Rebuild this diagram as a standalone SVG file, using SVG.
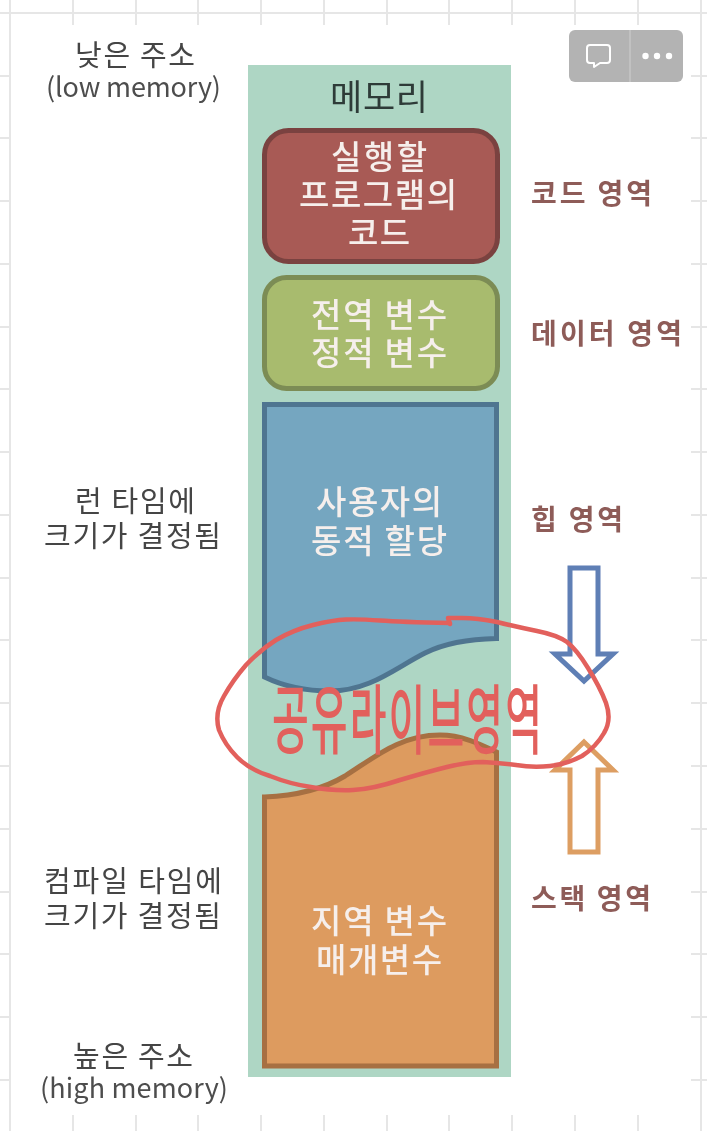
<svg xmlns="http://www.w3.org/2000/svg" width="707" height="1131" viewBox="0 0 707 1131">
<style>
text{font-family:"Noto Sans CJK KR","Noto Sans",sans-serif;text-anchor:start}
.grid{stroke:#e6e6e6;stroke-width:2;fill:none}
.side{font-size:29px;fill:#454545}
.latin{font-size:27px;fill:#4d4d4d}
.in{font-size:33px;font-weight:500;fill:#f6efec}
.area{font-size:28px;font-weight:700;fill:#8e5b59}
.box{stroke-width:5}
.arrow{fill:#fff;stroke-width:5;stroke-linejoin:miter;stroke-miterlimit:10}
</style>
<defs><filter id="soft" x="-5%" y="-5%" width="110%" height="110%"><feGaussianBlur stdDeviation="0.7"/></filter></defs>
<rect width="707" height="1131" fill="#fff"/>
<g id="grid" class="grid">
<path d="M0 13H707M10 0V1131M701 0V1131"/>
<path d="M73 0V25M136 0V25M198 0V25M261 0V25M324 0V25M387 0V25M449 0V25M512 0V25M575 0V25M638 0V25"/>
<path d="M10 1115V1131M73 1115V1131M136 1115V1131M198 1115V1131M261 1115V1131M324 1115V1131M387 1115V1131M449 1115V1131M512 1115V1131M575 1115V1131M638 1115V1131"/>
<path d="M0 76H9M0 138H9M0 201H9M0 264H9M0 327H9M0 389H9M0 452H9M0 515H9M0 578H9M0 640H9M0 703H9M0 766H9M0 829H9M0 892H9M0 954H9M0 1017H9M0 1080H9"/>
<path d="M691 76H707M691 138H707M691 201H707M691 264H707M691 327H707M691 389H707M691 452H707M691 515H707M691 578H707M691 640H707M691 703H707M691 766H707M691 829H707M691 892H707M691 954H707M691 1017H707M691 1080H707"/>
</g>
<g filter="url(#soft)">
<g id="memory">
<rect x="248" y="65" width="263" height="1012" fill="#aed6c4"/>
<text x="330" y="110" font-size="35" fill="#2d3b38" textLength="98">메모리</text>
</g>
<g id="code">
<rect class="box" x="264.5" y="130.5" width="233" height="131" rx="24" fill="#a85a54" stroke="#7a4340"/>
<text class="in" x="331" y="169" textLength="96">실행할</text>
<text class="in" x="299" y="207" textLength="158">프로그램의</text>
<text class="in" x="348" y="245" textLength="62">코드</text>
</g>
<g id="data">
<rect class="box" x="264.5" y="277.5" width="233" height="111" rx="22" fill="#a8bb6e" stroke="#7c8c54"/>
<text class="in" x="311" y="327" textLength="136">전역 변수</text>
<text class="in" x="311" y="365" textLength="136">정적 변수</text>
</g>
<g id="heap">
<path class="box" d="M264.5 404.5H496.5V638.5C470 639 445 643 425 653C395 668 370 691 330 691C305 691 285 687 264.5 677Z" fill="#74a6c0" stroke="#4f7590"/>
<text class="in" x="316" y="514" textLength="126">사용자의</text>
<text class="in" x="311" y="553" textLength="136">동적 할당</text>
</g>
<g id="stack">
<path class="box" d="M264.5 797C290 796 320 791 345 776C375 757 400 735 440 735C462 735 480 744 496.5 752V1066H264.5Z" fill="#dd9b5e" stroke="#a76f43"/>
<text class="in" x="311" y="933" textLength="136">지역 변수</text>
<text class="in" x="316" y="972" textLength="126">매개변수</text>
</g>
<g id="label-low">
<text class="side" x="75" y="66" textLength="120">낮은 주소</text>
<text class="latin" x="46" y="97" textLength="175">(low memory)</text>
</g>
<g id="label-runtime">
<text class="side" x="75" y="512" textLength="120">런 타임에</text>
<text class="side" x="44" y="547" textLength="177">크기가 결정됨</text>
</g>
<g id="label-compile">
<text class="side" x="44" y="892" textLength="178">컴파일 타임에</text>
<text class="side" x="44" y="927" textLength="177">크기가 결정됨</text>
</g>
<g id="label-high">
<text class="side" x="73" y="1067" textLength="120">높은 주소</text>
<text class="latin" x="40" y="1098" textLength="188">(high memory)</text>
</g>
<g id="label-code"><text class="area" x="531" y="204" textLength="121">코드 영역</text></g>
<g id="label-data"><text class="area" x="531" y="344" textLength="151">데이터 영역</text></g>
<g id="label-heap"><text class="area" x="531" y="530" textLength="92">힙 영역</text></g>
<g id="label-stack"><text class="area" x="531" y="909" textLength="120">스택 영역</text></g>
<g id="connectors">
<polygon class="arrow" points="570,568 598,568 598,654 613,654 584,681 555,654 570,654" stroke="#5f7fb5"/>
<polygon class="arrow" points="584,742 613,770 598,770 598,852 570,852 570,770 555,770" stroke="#dd9e62"/>
</g>
</g>
<g id="toolbar">
<rect x="569" y="30" width="114" height="52" rx="6" fill="#b3b3b3"/>
<path d="M630 30V82" stroke="#c6c6c6" stroke-width="1.5"/>
<path d="M590 45H607Q610 45 610 48V60Q610 63 607 63H600L594 67V63H590Q587 63 587 60V48Q587 45 590 45Z" fill="none" stroke="#fff" stroke-width="2" stroke-linejoin="round"/>
<circle cx="645.5" cy="56" r="3.2" fill="#fff"/><circle cx="657" cy="56" r="3.2" fill="#fff"/><circle cx="669" cy="56" r="3.2" fill="#fff"/>
</g>
<g id="annotation">
<path d="M450 623Q400 622 380 620.5Q360 619 346 619.5Q333 620 313 625Q293 630 276 640Q260 650 246 665Q233 680 224 696Q214 713 219 730Q225 745 237 757Q250 770 270 776Q290 784 311 787Q333 791 353 790Q373 789 400 780Q427 772 447 767Q467 762 483 762Q500 763 516 765Q533 768 550 766Q567 764 582 756Q596 747 604 733Q612 720 606 703Q600 687 588 668Q577 650 567 642Q557 635 537 631Q517 627 497 622Q477 618 462 618L448 618L450 624" fill="none" stroke="#e2605c" stroke-width="4.5" stroke-linecap="round" stroke-linejoin="round"/>
<text transform="translate(272 748) scale(1 1.9)" font-size="40" font-weight="500" fill="#e2605c" textLength="270">공유라이브영역</text>
</g>
</svg>
